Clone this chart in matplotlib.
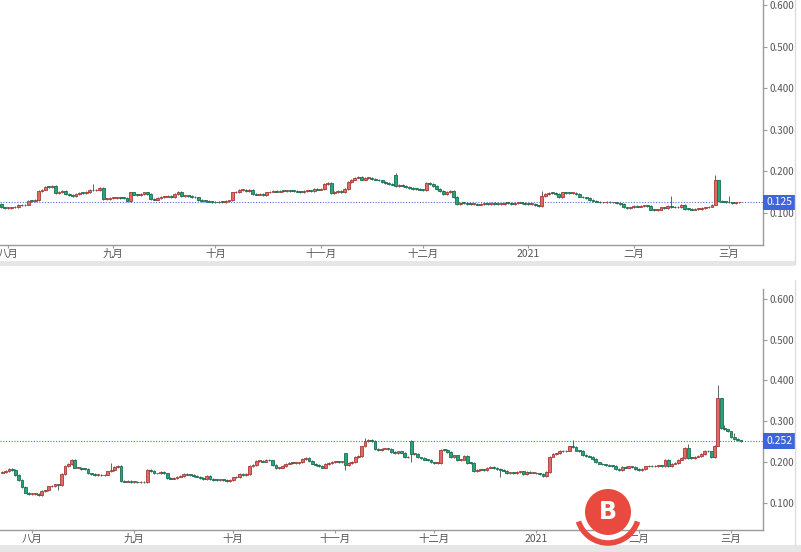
import numpy as np
import matplotlib
matplotlib.use('Agg')
import matplotlib.pyplot as plt
from matplotlib.patches import Rectangle, Ellipse, Arc
from matplotlib.lines import Line2D
from matplotlib.transforms import blended_transform_factory

plt.rcParams['font.family'] = ['Noto Sans CJK SC', 'DejaVu Sans']

########### Datos ###########
# dias contados desde el 1 de agosto de 2020
month_days = [0, 31, 61, 92, 122, 153, 184, 212]
month_labels = ['八月', '九月', '十月', '十一月', '十二月', '2021', '二月', '三月']
price_ticks = [0.1, 0.2, 0.3, 0.4, 0.5, 0.6]

# panel superior
top_first_day = -2
top_close = [
    0.113, 0.112, 0.112, 0.113, 0.114, 0.119, 0.118, 0.120, 0.129, 0.128,
    0.131, 0.153, 0.156, 0.163, 0.162, 0.165, 0.148, 0.150, 0.152, 0.146,
    0.143, 0.141, 0.146, 0.148, 0.147, 0.150, 0.155, 0.154, 0.155, 0.160,
    0.133, 0.134, 0.135, 0.136, 0.137, 0.136, 0.135, 0.129, 0.149, 0.144,
    0.143, 0.146, 0.149, 0.145, 0.133, 0.132, 0.135, 0.138, 0.139, 0.140,
    0.137, 0.145, 0.150, 0.141, 0.142, 0.140, 0.138, 0.137, 0.131, 0.129,
    0.128, 0.127, 0.126, 0.125, 0.127, 0.126, 0.128, 0.130, 0.149, 0.150,
    0.155, 0.156, 0.153, 0.155, 0.145, 0.144, 0.145, 0.143, 0.149, 0.151,
    0.152, 0.151, 0.153, 0.152, 0.154, 0.153, 0.152, 0.151, 0.150, 0.152,
    0.154, 0.153, 0.157, 0.156, 0.158, 0.170, 0.173, 0.148, 0.150, 0.152,
    0.150, 0.157, 0.175, 0.180, 0.185, 0.186, 0.180, 0.184, 0.185, 0.182,
    0.180, 0.178, 0.175, 0.172, 0.170, 0.168, 0.165, 0.167, 0.164, 0.162,
    0.160, 0.158, 0.157, 0.156, 0.155, 0.173, 0.170, 0.165, 0.158, 0.153,
    0.145, 0.150, 0.152, 0.138, 0.122, 0.124, 0.123, 0.122, 0.121, 0.121,
    0.120, 0.121, 0.122, 0.121, 0.123, 0.122, 0.121, 0.122, 0.124, 0.123,
    0.122, 0.124, 0.125, 0.123, 0.122, 0.121, 0.122, 0.118, 0.117, 0.141,
    0.146, 0.148, 0.147, 0.145, 0.138, 0.149, 0.148, 0.147, 0.148, 0.146,
    0.139, 0.137, 0.135, 0.131, 0.128, 0.127, 0.125, 0.125, 0.126, 0.125,
    0.125, 0.124, 0.122, 0.113, 0.112, 0.113, 0.116, 0.115, 0.117, 0.118,
    0.117, 0.108, 0.107, 0.108, 0.113, 0.112, 0.116, 0.114, 0.113, 0.114,
    0.119, 0.110, 0.109, 0.108, 0.109, 0.110, 0.111, 0.113, 0.115, 0.120,
    0.178, 0.128, 0.127, 0.126, 0.125, 0.124, 0.125, 0.125,
]
top_open_gap = {-2: 0.121, 114: 0.192}
top_high = {25: 0.170, 114: 0.195, 157: 0.153, 195: 0.141, 208: 0.190, 212: 0.140}
top_low = {}
top_last = 0.125

# panel inferior
bot_first_day = -9
bot_close = [
    0.176, 0.178, 0.182, 0.180, 0.168, 0.156, 0.139, 0.125, 0.121, 0.121,
    0.122, 0.118, 0.129, 0.130, 0.140, 0.141, 0.145, 0.143, 0.170, 0.190,
    0.195, 0.205, 0.186, 0.186, 0.183, 0.182, 0.172, 0.170, 0.168, 0.168,
    0.167, 0.169, 0.177, 0.180, 0.187, 0.190, 0.154, 0.152, 0.153, 0.151,
    0.152, 0.150, 0.152, 0.150, 0.180, 0.178, 0.172, 0.172, 0.176, 0.172,
    0.160, 0.159, 0.160, 0.164, 0.165, 0.170, 0.169, 0.168, 0.166, 0.164,
    0.160, 0.158, 0.165, 0.158, 0.156, 0.155, 0.157, 0.155, 0.154, 0.156,
    0.162, 0.163, 0.170, 0.168, 0.170, 0.190, 0.192, 0.203, 0.203, 0.201,
    0.205, 0.204, 0.192, 0.185, 0.186, 0.190, 0.196, 0.198, 0.197, 0.198,
    0.199, 0.208, 0.210, 0.203, 0.196, 0.193, 0.190, 0.186, 0.195, 0.198,
    0.200, 0.201, 0.200, 0.201, 0.193, 0.198, 0.200, 0.212, 0.214, 0.238,
    0.252, 0.254, 0.252, 0.232, 0.230, 0.233, 0.233, 0.232, 0.225, 0.222,
    0.226, 0.223, 0.211, 0.212, 0.219, 0.220, 0.211, 0.209, 0.206, 0.205,
    0.199, 0.198, 0.198, 0.230, 0.229, 0.224, 0.212, 0.216, 0.205, 0.206,
    0.214, 0.198, 0.197, 0.178, 0.180, 0.181, 0.180, 0.186, 0.188, 0.185,
    0.183, 0.180, 0.179, 0.173, 0.174, 0.173, 0.176, 0.177, 0.171, 0.175,
    0.174, 0.174, 0.172, 0.171, 0.165, 0.175, 0.213, 0.220, 0.221, 0.227,
    0.226, 0.228, 0.238, 0.236, 0.228, 0.227, 0.217, 0.215, 0.213, 0.207,
    0.199, 0.196, 0.194, 0.193, 0.191, 0.190, 0.182, 0.181, 0.187, 0.186,
    0.189, 0.188, 0.182, 0.181, 0.182, 0.189, 0.190, 0.189, 0.190, 0.191,
    0.190, 0.205, 0.189, 0.196, 0.197, 0.206, 0.210, 0.235, 0.210, 0.209,
    0.213, 0.214, 0.220, 0.228, 0.226, 0.212, 0.240, 0.356, 0.283, 0.280,
    0.275, 0.262, 0.256, 0.253, 0.252,
]
bot_open_gap = {-9: 0.174, 95: 0.221, 115: 0.252}
bot_high = {24: 0.198, 101: 0.258, 164: 0.254, 199: 0.245, 208: 0.389, 210: 0.290, 213: 0.270}
bot_low = {8: 0.131, 95: 0.180, 115: 0.200, 142: 0.164}
bot_last = 0.252

########### Estilo ###########
UP_FACE, UP_EDGE = '#e06a66', '#a83a36'
DN_FACE, DN_EDGE = '#27a57a', '#17704f'
LINE_BLUE = '#4a6fd6'
AXIS_GREY = '#9a9a9a'
TEXT_GREY = '#555555'
WICK_PAD = 0.002


def candles(ax, first_day, close, open_gap, high, low):
    close = np.array(close)
    days = np.arange(first_day, first_day + len(close))
    opens = np.r_[close[0], close[:-1]]
    for d, v in open_gap.items():
        opens[d - first_day] = v
    for d, o, c in zip(days, opens, close):
        up = c >= o
        lo_b, hi_b = min(o, c), max(o, c)
        h = high.get(int(d), hi_b + WICK_PAD)
        l = low.get(int(d), lo_b - WICK_PAD)
        edge = UP_EDGE if up else DN_EDGE
        ax.vlines(d, l, h, color='#4a4a4a', lw=0.6, zorder=2)
        ax.bar(d, max(hi_b - lo_b, 0.002), bottom=lo_b, width=0.85,
               color=UP_FACE if up else DN_FACE, edgecolor=edge, lw=0.6, zorder=3)


def style(ax, xlim, ylim, last):
    ax.set_xlim(*xlim)
    ax.set_ylim(*ylim)
    for s in ['left', 'top']:
        ax.spines[s].set_visible(False)
    for s in ['right', 'bottom']:
        ax.spines[s].set_color(AXIS_GREY)
        ax.spines[s].set_linewidth(1.0)
    ax.yaxis.tick_right()
    ax.set_yticks(price_ticks)
    ax.set_yticklabels(['%.3f' % v for v in price_ticks])
    ax.set_xticks(month_days)
    ax.set_xticklabels(month_labels)
    ax.tick_params(axis='y', length=3, width=0.8, color=AXIS_GREY, labelsize=7,
                   labelcolor=TEXT_GREY, pad=2)
    ax.tick_params(axis='x', length=2.5, width=0.8, color=AXIS_GREY, labelsize=7.5,
                   labelcolor=TEXT_GREY, pad=0.5)
    ax.axhline(last, color=LINE_BLUE, lw=0.8, ls=(0, (1, 1.5)), zorder=1)
    tr = blended_transform_factory(ax.transAxes, ax.transData)
    ax.text(1.004, last, '%.3f' % last, transform=tr, color='white', fontsize=7.5,
            va='center', ha='left', zorder=5, clip_on=False,
            bbox=dict(boxstyle='square,pad=0.28', fc='#3d66dc', ec='none'))


W, H = 801, 552
fig = plt.figure(figsize=(W / 100, H / 100), dpi=100)

ax1 = fig.add_axes([0, 1 - 245 / H, 763 / W, 245 / H])
candles(ax1, top_first_day, top_close, top_open_gap, top_high, top_low)
style(ax1, (-2.35, 222.0), (0.0227, 0.612), top_last)

ax2 = fig.add_axes([0, 1 - 530 / H, 763 / W, (530 - 289) / H])
candles(ax2, bot_first_day, bot_close, bot_open_gap, bot_high, bot_low)
style(ax2, (-9.7, 221.7), (0.033, 0.6245), bot_last)

# franjas grises de la interfaz
fig.add_artist(Rectangle((0, 1 - 266 / H), 795 / W, 5 / H, transform=fig.transFigure,
                         fc='#e6e6e6', ec='none'))
fig.add_artist(Rectangle((0, 0), 1, 7 / H, transform=fig.transFigure,
                         fc='#e6e6e6', ec='none'))
fig.add_artist(Line2D([795 / W, 795 / W], [1 - 264 / H, 1], transform=fig.transFigure,
                      color='#dddddd', lw=1))
fig.add_artist(Line2D([795 / W, 795 / W], [7 / H, 1 - 280 / H], transform=fig.transFigure,
                      color='#dddddd', lw=1))

# marca de agua
cx, cy = 608 / W, 1 - 512 / H
fig.add_artist(Ellipse((cx, cy), 46 / W, 46 / H, transform=fig.transFigure,
                       fc='#e84a3f', ec='none', zorder=10))
fig.add_artist(Arc((cx, cy), 62 / W, 62 / H, theta1=205, theta2=335,
                   transform=fig.transFigure, color='#e84a3f', lw=4, zorder=10))
fig.text(cx, cy, 'B', color='white', fontsize=17, fontweight='bold',
         ha='center', va='center', family='DejaVu Sans', zorder=11)

fig.savefig('out.png', dpi=100)
